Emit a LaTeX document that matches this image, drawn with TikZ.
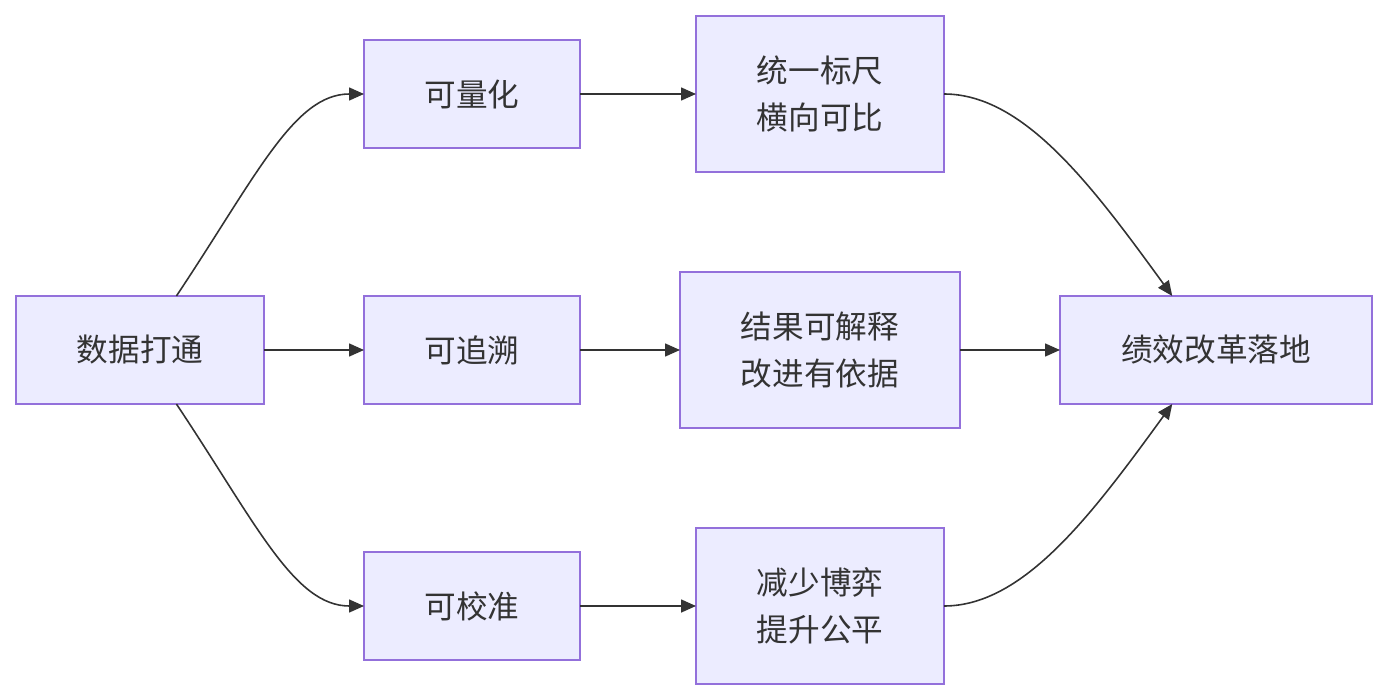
\documentclass[tikz,border=0pt]{standalone}
\usepackage{fontspec}
\setmainfont{Noto Sans CJK SC}
\usetikzlibrary{positioning, arrows.meta}
\definecolor{boxfill}{HTML}{ECECFF}
\definecolor{boxline}{HTML}{9370DB}
\definecolor{linkgray}{HTML}{333333}

\begin{document}
\begin{tikzpicture}[node distance=2cm,
    every node/.style={font=\fontsize{18}{27}\selectfont, text=linkgray},
    stepbox/.style={draw=boxline, line width=0.9pt, fill=boxfill,
                    minimum height=2.16cm, inner sep=0pt, outer sep=0pt,
                    align=center},
    link/.style={draw=linkgray, line width=0.9pt,
                 -{Triangle[length=0.3cm, width=0.26cm]}}]
  \useasboundingbox (0,0) rectangle (27.76,-14);
  \node[stepbox, minimum width=4.96cm] (data) at (2.8,-7) {数据打通};
  \node[stepbox, minimum width=4.32cm, right=of data] (trace) {可追溯};
  \node[stepbox, minimum width=4.32cm, above=2.96cm of trace] (quant) {可量化};
  \node[stepbox, minimum width=4.32cm, below=2.96cm of trace] (calib) {可校准};
  \node[stepbox, minimum width=5.6cm, minimum height=3.12cm, right=of trace] (explain)
    {结果可解释\\改进有依据};
  \node[stepbox, minimum width=4.96cm, minimum height=3.12cm] (ruler) at (explain |- quant)
    {统一标尺\\横向可比};
  \node[stepbox, minimum width=4.96cm, minimum height=3.12cm] (fair) at (explain |- calib)
    {减少博弈\\提升公平};
  \node[stepbox, minimum width=6.24cm, right=of explain] (reform) {绩效改革落地};

  \draw[link] (data.56) .. controls +(1.6,2.4) and +(-1.4,0) .. (quant.west);
  \draw[link] (data) -- (trace);
  \draw[link] (data.304) .. controls +(1.6,-2.4) and +(-1.4,0) .. (calib.west);
  \draw[link] (quant) -- (ruler);
  \draw[link] (trace) -- (explain);
  \draw[link] (calib) -- (fair);
  \draw[link] (ruler.east) .. controls +(1.6,0) and +(-1.6,2.2) .. (reform.129);
  \draw[link] (explain) -- (reform);
  \draw[link] (fair.east) .. controls +(1.6,0) and +(-1.6,-2.2) .. (reform.231);
\end{tikzpicture}
\end{document}
